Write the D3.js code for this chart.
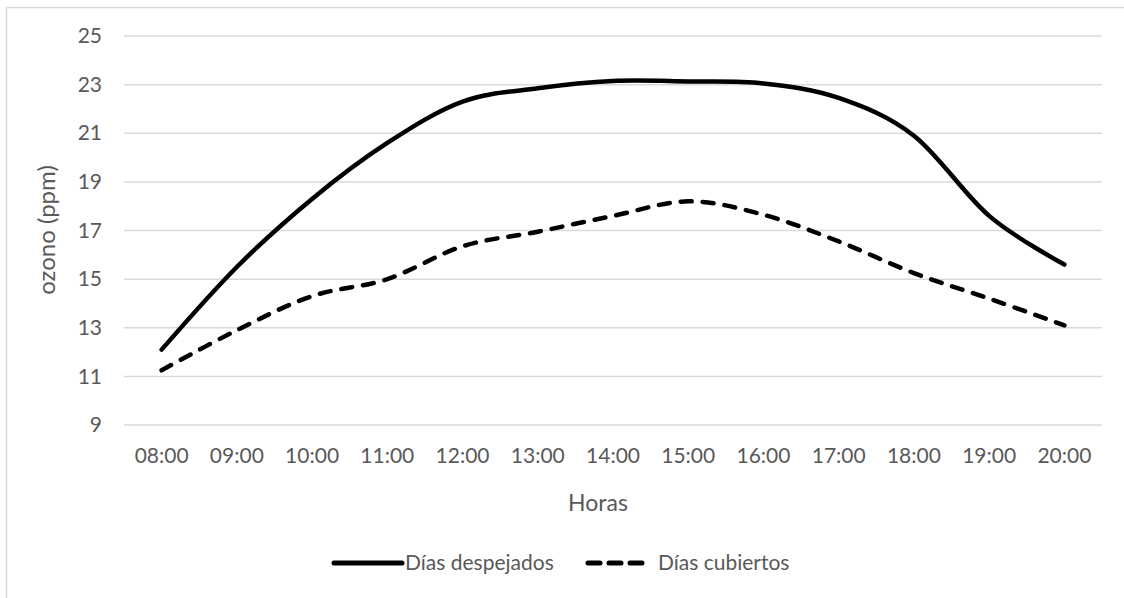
<!DOCTYPE html>
<html><head><meta charset="utf-8">
<script src="https://cdn.jsdelivr.net/npm/d3@7"></script>
<style>body{margin:0;background:#fff;} svg{display:block;}</style>
</head><body>
<script>
const categories = ["08:00","09:00","10:00","11:00","12:00","13:00","14:00","15:00","16:00","17:00","18:00","19:00","20:00"];
const despejados = [12.1, 15.5, 18.3, 20.6, 22.3, 22.85, 23.15, 23.13, 23.05, 22.45, 20.9, 17.6, 15.6];
const cubiertos = [11.25, 12.9, 14.3, 15.0, 16.35, 16.95, 17.6, 18.2, 17.65, 16.55, 15.25, 14.2, 13.1];
const yTicks = [9, 11, 13, 15, 17, 19, 21, 23, 25];
const seriesNames = ["Días despejados", "Días cubiertos"];

const W = 1124, H = 598;
const svg = d3.select("body").append("svg").attr("width", W).attr("height", H);
const font = "Lato, 'Open Sans', sans-serif";
const txt = "#595959";

svg.append("rect").attr("x", 6.5).attr("y", 7.5).attr("width", 1200).attr("height", 700)
  .attr("fill", "none").attr("stroke", "#d9d9d9").attr("stroke-width", 1.5);

const x = d3.scaleBand().domain(categories).range([124, 1102]);
const y = d3.scaleLinear().domain([9, 25]).range([425, 36]);

// gridlines
svg.append("g").selectAll("line").data(yTicks).join("line")
  .attr("x1", 124).attr("x2", 1102)
  .attr("y1", d => y(d)).attr("y2", d => y(d))
  .attr("stroke", "#d9d9d9").attr("stroke-width", 1.5);

// y axis
const yAxis = svg.append("g").attr("transform", "translate(112,0)")
  .call(d3.axisLeft(y).tickValues(yTicks).tickSize(0).tickPadding(10));
yAxis.select(".domain").remove();
yAxis.selectAll("text").attr("font-family", font).attr("font-size", 21).attr("fill", txt);

// x axis
const xAxis = svg.append("g").attr("transform", "translate(0,444)")
  .call(d3.axisBottom(x).tickSize(0).tickPadding(4));
xAxis.select(".domain").remove();
xAxis.selectAll("text").attr("font-family", font).attr("font-size", 21).attr("fill", txt);

// titles
svg.append("text").attr("x", 598).attr("y", 511).attr("text-anchor", "middle")
  .attr("font-family", font).attr("font-size", 23).attr("fill", txt).text("Horas");
svg.append("text").attr("transform", "translate(55,230) rotate(-90)").attr("text-anchor", "middle")
  .attr("font-family", font).attr("font-size", 24).attr("fill", txt).text("ozono (ppm)");

const line = d3.line()
  .x((d, i) => x(categories[i]) + x.bandwidth() / 2)
  .y(d => y(d))
  .curve(d3.curveCatmullRom.alpha(0));

svg.append("path").datum(despejados).attr("d", line)
  .attr("fill", "none").attr("stroke", "#000").attr("stroke-width", 4.5).attr("stroke-linecap", "round");
svg.append("path").datum(cubiertos).attr("d", line)
  .attr("fill", "none").attr("stroke", "#000").attr("stroke-width", 4.5)
  .attr("stroke-linecap", "round").attr("stroke-dasharray", "11,11");

// legend
const leg = svg.append("g");
leg.append("line").attr("x1", 334).attr("x2", 402).attr("y1", 563).attr("y2", 563)
  .attr("stroke", "#000").attr("stroke-width", 5).attr("stroke-linecap", "round");
leg.append("text").attr("x", 405).attr("y", 570).attr("font-family", font).attr("font-size", 21)
  .attr("fill", txt).text(seriesNames[0]);
leg.append("line").attr("x1", 588).attr("x2", 646).attr("y1", 563).attr("y2", 563)
  .attr("stroke", "#000").attr("stroke-width", 5).attr("stroke-linecap", "round")
  .attr("stroke-dasharray", "12,9");
leg.append("text").attr("x", 658).attr("y", 570).attr("font-family", font).attr("font-size", 21)
  .attr("fill", txt).text(seriesNames[1]);
</script>
</body></html>
